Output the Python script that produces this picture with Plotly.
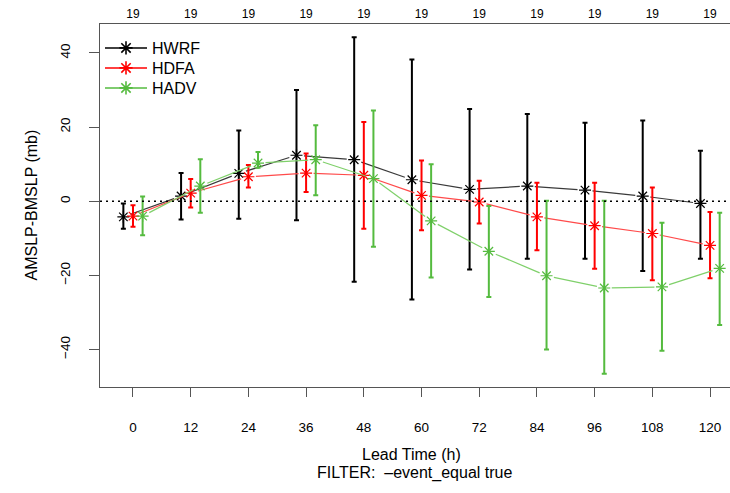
import math
import plotly.graph_objects as go

# Lead times (h) and number of cases per lead time
lead = [0, 12, 24, 36, 48, 60, 72, 84, 96, 108, 120]
n_cases = [19, 19, 19, 19, 19, 19, 19, 19, 19, 19, 19]

# Mean AMSLP-BMSLP (mb) and confidence bounds per model
hwrf_mean = [-4.2, 1.4, 7.5, 12.4, 11.2, 5.8, 3.2, 4.1, 3.0, 1.4, -0.6]
hwrf_hi = [-0.6, 7.6, 19.1, 30.0, 44.2, 38.2, 24.9, 23.5, 21.2, 21.8, 13.6]
hwrf_lo = [-7.4, -4.9, -4.7, -5.1, -21.7, -26.5, -18.4, -15.5, -15.5, -18.8, -15.5]

hdfa_mean = [-4.0, 2.2, 6.6, 7.6, 7.0, 1.6, -0.2, -4.2, -6.6, -8.7, -11.9]
hdfa_hi = [-1.1, 6.0, 9.8, 12.9, 21.4, 11.0, 5.5, 5.0, 5.0, 3.7, -2.9]
hdfa_lo = [-6.9, -1.7, 3.7, 2.5, -7.4, -7.8, -6.0, -13.2, -18.2, -21.3, -20.8]

hadv_mean = [-4.0, 4.1, 10.3, 11.2, 6.1, -5.3, -13.5, -20.1, -23.4, -23.1, -18.1]
hadv_hi = [1.3, 11.3, 13.3, 20.5, 24.5, 10.0, -1.3, 0.1, 0.1, -5.8, -3.1]
hadv_lo = [-9.2, -3.1, 9.0, 1.6, -12.3, -20.6, -25.8, -40.0, -46.5, -40.3, -33.4]

# Figure geometry
W, H = 730, 493
M_L, M_R, M_T, M_B = 100, 0, 24, 106
X_RANGE = [-6.86, 124.15]
Y_RANGE = [-50.1, 47.8]
PLOT_W = W - M_L - M_R
PLOT_H = H - M_T - M_B
PX_X = PLOT_W / (X_RANGE[1] - X_RANGE[0])
PX_Y = PLOT_H / (Y_RANGE[1] - Y_RANGE[0])

FONT = "Liberation Sans, Arial, sans-serif"

series = [
    ("HWRF", hwrf_mean, hwrf_hi, hwrf_lo, -2.0, "#000000", "#3a3a3a", "legend"),
    ("HDFA", hdfa_mean, hdfa_hi, hdfa_lo, 0.0, "#ff0000", "#ff4a4a", "legend2"),
    ("HADV", hadv_mean, hadv_hi, hadv_lo, 2.0, "#55bb3f", "#7fd06a", "legend3"),
]


def gapped_line(xs, ys, gap_px=7.5):
    """Connecting segments that stop short of each point marker."""
    gx, gy = [], []
    for i in range(len(xs) - 1):
        dx = (xs[i + 1] - xs[i]) * PX_X
        dy = (ys[i + 1] - ys[i]) * PX_Y
        seg = math.hypot(dx, dy)
        if seg <= 2 * gap_px:
            continue
        f = gap_px / seg
        gx += [xs[i] + (xs[i + 1] - xs[i]) * f, xs[i + 1] - (xs[i + 1] - xs[i]) * f, None]
        gy += [ys[i] + (ys[i + 1] - ys[i]) * f, ys[i + 1] - (ys[i + 1] - ys[i]) * f, None]
    return gx, gy


fig = go.Figure()

for name, mean, hi, lo, off, col, lcol, leg in series:
    xs = [t + off for t in lead]
    gx, gy = gapped_line(xs, mean)
    fig.add_trace(go.Scatter(
        x=gx, y=gy, mode="lines", showlegend=False, hoverinfo="skip",
        line=dict(color=lcol, width=1.2),
    ))
    fig.add_trace(go.Scatter(
        x=xs, y=mean, mode="markers", showlegend=False, name=name,
        marker=dict(symbol="asterisk-open", size=10, color=col,
                    line=dict(color=col, width=1.2)),
        error_y=dict(type="data", symmetric=False,
                     array=[h - m for h, m in zip(hi, mean)],
                     arrayminus=[m - l for m, l in zip(mean, lo)],
                     color=col, thickness=2, width=2.5),
    ))
    # legend entry, one legend box per model so the rows sit tightly
    fig.add_trace(go.Scatter(
        x=[None], y=[None], mode="lines+markers", name=name, legend=leg,
        line=dict(color=col, width=1.5),
        marker=dict(symbol="asterisk-open", size=11, color=col,
                    line=dict(color=col, width=1.6)),
    ))

# top axis carrying the case counts
fig.add_trace(go.Scatter(x=[None], y=[None], xaxis="x2", showlegend=False))

fig.add_shape(type="line", xref="paper", yref="y", x0=0, x1=1, y0=0, y1=0,
              line=dict(color="black", width=1.3, dash="2px,4px"))


def legend_box(row_center_px):
    top = row_center_px - 16
    return dict(x=0.0, y=1 - (top - M_T) / PLOT_H, xanchor="left", yanchor="top",
                bgcolor="rgba(0,0,0,0)", font=dict(size=16), itemwidth=42)


fig.update_layout(
    width=W, height=H,
    margin=dict(l=M_L, r=M_R, t=M_T, b=M_B),
    paper_bgcolor="white", plot_bgcolor="white",
    font=dict(family=FONT, size=13, color="black"),
    xaxis=dict(range=X_RANGE, tickvals=lead, ticktext=[str(t) for t in lead],
               showgrid=False, zeroline=False, showline=True, linecolor="#555555",
               linewidth=1.3, ticks="outside", ticklen=9, tickcolor="#555555",
               tickwidth=1.2, tickfont=dict(size=13.5), ticklabelstandoff=19),
    xaxis2=dict(range=X_RANGE, overlaying="x", side="top", tickvals=lead,
                ticktext=[str(n) for n in n_cases], showgrid=False, zeroline=False,
                showline=True, linecolor="#555555", linewidth=1.3, ticks="",
                tickfont=dict(size=12)),
    yaxis=dict(range=Y_RANGE, tickvals=[-40, -20, 0, 20, 40], tickangle=-90,
               showgrid=False, zeroline=False, showline=True, linecolor="#555555",
               linewidth=1.3, ticks="outside", ticklen=10, tickcolor="#555555",
               tickwidth=1.2, tickfont=dict(size=13.5), ticklabelstandoff=13),
    legend=legend_box(47),
    legend2=legend_box(67),
    legend3=legend_box(87),
    showlegend=True,
)

# axis titles placed in pixel terms around the plot area
fig.add_annotation(text="AMSLP-BMSLP (mb)", xref="paper", yref="paper",
                   x=-(M_L - 31) / PLOT_W, xanchor="center", y=0.5, yanchor="middle",
                   textangle=-90, showarrow=False, font=dict(size=16))
fig.add_annotation(text="Lead Time (h)", xref="paper", yref="paper",
                   x=(411 - M_L) / PLOT_W, y=-(454 - (H - M_B)) / PLOT_H,
                   yanchor="middle", showarrow=False, font=dict(size=16))
fig.add_annotation(text="FILTER:  \u2013event_equal true", xref="paper", yref="paper",
                   x=(414 - M_L) / PLOT_W, y=-(473 - (H - M_B)) / PLOT_H,
                   yanchor="middle", showarrow=False, font=dict(size=16))

fig.write_html("out.html")
